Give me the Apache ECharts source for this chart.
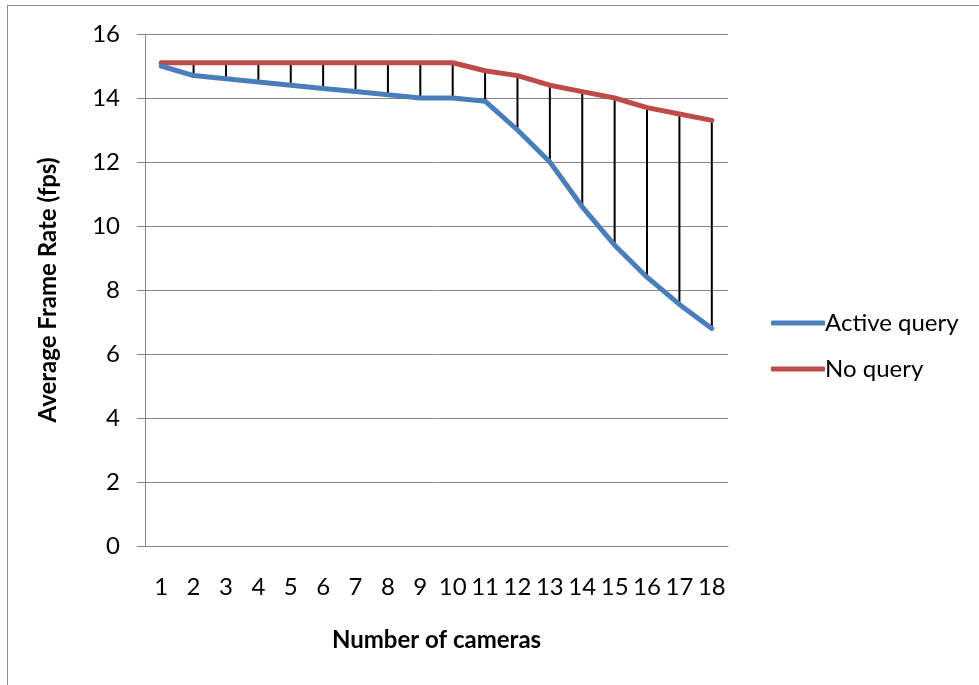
<!DOCTYPE html>
<html>
<head>
<meta charset="utf-8">
<script src="https://cdn.jsdelivr.net/npm/echarts@6/dist/echarts.min.js"></script>
<style>
  html, body { margin: 0; padding: 0; background: #fff; }
  #chart { width: 979px; height: 685px; }
</style>
</head>
<body>
<div id="chart"></div>
<script>
// Number of cameras on the x axis
const cameras = ['1','2','3','4','5','6','7','8','9','10','11','12','13','14','15','16','17','18'];
// Average frame rate (fps) with an active query running
const activeQuery = [15.0, 14.7, 14.6, 14.5, 14.4, 14.3, 14.2, 14.1, 14.0, 14.0, 13.9, 13.0, 12.0, 10.6, 9.4, 8.4, 7.55, 6.8];
// Average frame rate (fps) with no query
const noQuery = [15.1, 15.1, 15.1, 15.1, 15.1, 15.1, 15.1, 15.1, 15.1, 15.1, 14.85, 14.7, 14.4, 14.2, 14.0, 13.7, 13.5, 13.3];
// Value axis ticks
const yTicks = { min: 0, max: 16, interval: 2 };

const FONT = 'Lato, Open Sans, sans-serif';
const AXIS_GREY = '#868686';

// High-low connectors between the two series at each camera count
const hiLow = cameras.map((c, i) => [i, activeQuery[i], noQuery[i]]);

const chart = echarts.init(document.getElementById('chart'), null, { renderer: 'canvas' });
chart.setOption({
  animation: false,
  backgroundColor: '#ffffff',
  grid: { left: 145, top: 34, right: 251, bottom: 139, containLabel: false },
  graphic: [
    { type: 'line', shape: { x1: 7.5, y1: 5, x2: 7.5, y2: 685 }, style: { stroke: '#8c8c8c', lineWidth: 1 } },
    { type: 'line', shape: { x1: 7, y1: 5.5, x2: 979, y2: 5.5 }, style: { stroke: '#8c8c8c', lineWidth: 1 } }
  ],
  legend: {
    orient: 'vertical',
    left: 766,
    top: 306,
    itemWidth: 54,
    itemHeight: 5,
    itemGap: 22,
    icon: 'roundRect',
    textStyle: { fontFamily: FONT, fontSize: 24, color: '#000', padding: [0, 0, 0, -5] },
    data: ['Active query', 'No query']
  },
  xAxis: {
    type: 'category',
    data: cameras,
    boundaryGap: true,
    axisLine: { show: true, lineStyle: { color: AXIS_GREY, width: 1 } },
    axisTick: { show: false },
    axisLabel: { fontFamily: FONT, fontSize: 24, color: '#000', margin: 29, interval: 0 },
    name: 'Number of cameras',
    nameLocation: 'middle',
    nameGap: 82,
    nameTextStyle: { fontFamily: FONT, fontSize: 24, fontWeight: 'bold', color: '#000' }
  },
  yAxis: {
    type: 'value',
    min: yTicks.min,
    max: yTicks.max,
    interval: yTicks.interval,
    axisLine: { show: true, lineStyle: { color: AXIS_GREY, width: 1 } },
    axisTick: { show: true, length: 8, lineStyle: { color: AXIS_GREY } },
    axisLabel: { fontFamily: FONT, fontSize: 24, color: '#000', margin: 25 },
    splitLine: { show: true, lineStyle: { color: AXIS_GREY, width: 1 } },
    name: 'Average Frame Rate (fps)',
    nameLocation: 'middle',
    nameGap: 85,
    nameTextStyle: { fontFamily: FONT, fontSize: 24, fontWeight: 'bold', color: '#000' }
  },
  series: [
    {
      name: 'hi-low',
      type: 'custom',
      data: hiLow,
      z: 1,
      silent: true,
      renderItem: function (params, api) {
        const p1 = api.coord([api.value(0), api.value(1)]);
        const p2 = api.coord([api.value(0), api.value(2)]);
        return {
          type: 'line',
          shape: { x1: p1[0], y1: p1[1], x2: p2[0], y2: p2[1] },
          style: { stroke: '#000', lineWidth: 2 }
        };
      }
    },
    {
      name: 'Active query',
      type: 'line',
      data: activeQuery,
      showSymbol: false,
      symbol: 'none',
      z: 3,
      color: '#4a7ebb',
      lineStyle: { color: '#4a7ebb', width: 5, cap: 'round', join: 'round' }
    },
    {
      name: 'No query',
      type: 'line',
      data: noQuery,
      showSymbol: false,
      symbol: 'none',
      z: 2,
      color: '#be4b48',
      lineStyle: { color: '#be4b48', width: 5, cap: 'round', join: 'round' }
    }
  ]
});
</script>
</body>
</html>
